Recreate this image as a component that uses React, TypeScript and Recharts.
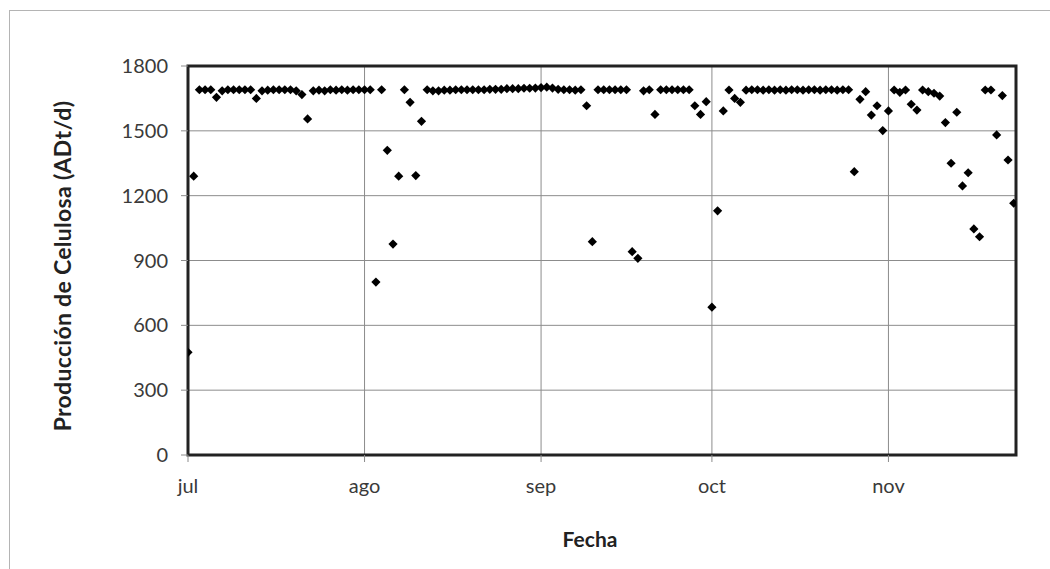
import { CartesianGrid, ReferenceArea, Scatter, ScatterChart, XAxis, YAxis } from "recharts";

// daily pulp production (ADt/d), one value per day starting on 1 July
const PROD_JUL = [
  475, 1290, 1690, 1690, 1690, 1655, 1685, 1690, 1690, 1690, 1690, 1690, 1650, 1685, 1688, 1690,
  1690, 1690, 1690, 1685, 1668, 1555, 1685, 1688, 1685, 1690, 1688, 1690, 1688, 1690, 1690,
];
const PROD_AGO = [
  1690, 1690, 800, 1690, 1410, 976, 1290, 1690, 1632, 1293, 1544, 1690, 1685, 1685, 1688, 1688,
  1690, 1690, 1690, 1690, 1690, 1690, 1692, 1692, 1692, 1695, 1695, 1695, 1697, 1697, 1698,
];
const PROD_SEP = [
  1700, 1702, 1698, 1692, 1690, 1690, 1688, 1690, 1616, 987, 1690, 1690, 1690, 1690, 1690, 1690,
  941, 910, 1685, 1690, 1576, 1690, 1690, 1690, 1690, 1690, 1690, 1616, 1576, 1635,
];
const PROD_OCT = [
  684, 1130, 1592, 1689, 1650, 1632, 1688, 1690, 1690, 1688, 1690, 1688, 1690, 1688, 1690, 1690,
  1688, 1690, 1690, 1688, 1690, 1690, 1688, 1690, 1690, 1311, 1646, 1681, 1573, 1616, 1501,
];
const PROD_NOV = [
  1592, 1689, 1678, 1689, 1623, 1596, 1689, 1681, 1674, 1661, 1538, 1350, 1586, 1245, 1306, 1046,
  1010, 1689, 1689, 1481, 1663, 1365, 1165,
];

const MONTH_TICKS = [0, 31, 62, 92, 123];
const MONTH_LABELS = ["jul", "ago", "sep", "oct", "nov"];
const Y_TICKS = [0, 300, 600, 900, 1200, 1500, 1800];
const X_MAX = 145.4;

const data = [...PROD_JUL, ...PROD_AGO, ...PROD_SEP, ...PROD_OCT, ...PROD_NOV].map((value, day) => ({
  day,
  value,
}));

const FONT = "Lato, 'Open Sans', sans-serif";

// Excel-style square diamond marker
function Diamond(props: any) {
  const { cx, cy } = props;
  if (cx == null || cy == null) return null;
  const r = 4.6;
  return (
    <polygon
      points={`${cx},${cy - r} ${cx + r},${cy} ${cx},${cy + r} ${cx - r},${cy}`}
      fill="#000"
    />
  );
}

export default function App() {
  return (
    <div
      style={{
        position: "absolute",
        left: 0,
        top: 0,
        width: 1050,
        height: 569,
        overflow: "hidden",
        background: "#fff",
        fontFamily: FONT,
      }}
    >
      <div
        style={{
          position: "absolute",
          left: 9,
          top: 10,
          width: 1100,
          height: 620,
          border: "1px solid #b4b4b4",
        }}
      />
      <ScatterChart width={1050} height={569} margin={{ top: 66, right: 34, bottom: 54, left: 88 }}>
        <CartesianGrid stroke="#8c8c8c" strokeWidth={1} />
        <XAxis
          type="number"
          dataKey="day"
          domain={[0, X_MAX]}
          ticks={MONTH_TICKS}
          tickFormatter={(v: number) => MONTH_LABELS[MONTH_TICKS.indexOf(v)] ?? ""}
          height={60}
          axisLine={false}
          tickLine={{ stroke: "#8c8c8c" }}
          tickSize={7}
          tickMargin={17}
          tick={{ fontSize: 20, fill: "#3a3a3a", fontFamily: FONT }}
          allowDataOverflow
        />
        <YAxis
          type="number"
          dataKey="value"
          domain={[0, 1800]}
          ticks={Y_TICKS}
          width={100}
          axisLine={false}
          tickLine={{ stroke: "#8c8c8c" }}
          tickSize={7}
          tickMargin={13}
          tick={{ fontSize: 20, fill: "#3a3a3a", fontFamily: FONT }}
          allowDataOverflow
        />
        <ReferenceArea
          x1={0}
          x2={X_MAX}
          y1={0}
          y2={1800}
          fill="none"
          stroke="#222"
          strokeWidth={3}
          ifOverflow="visible"
        />
        <Scatter data={data} shape={<Diamond />} isAnimationActive={false} />
      </ScatterChart>
      <div
        style={{
          position: "absolute",
          left: 62,
          top: 266,
          transform: "translate(-50%, -50%) rotate(-90deg)",
          whiteSpace: "nowrap",
          fontWeight: 700,
          fontSize: 23,
          letterSpacing: 0.3,
          color: "#222",
        }}
      >
        Producción de Celulosa (ADt/d)
      </div>
      <div
        style={{
          position: "absolute",
          left: 590,
          top: 538,
          transform: "translate(-50%, -50%)",
          whiteSpace: "nowrap",
          fontWeight: 700,
          fontSize: 21,
          color: "#222",
        }}
      >
        Fecha
      </div>
    </div>
  );
}
